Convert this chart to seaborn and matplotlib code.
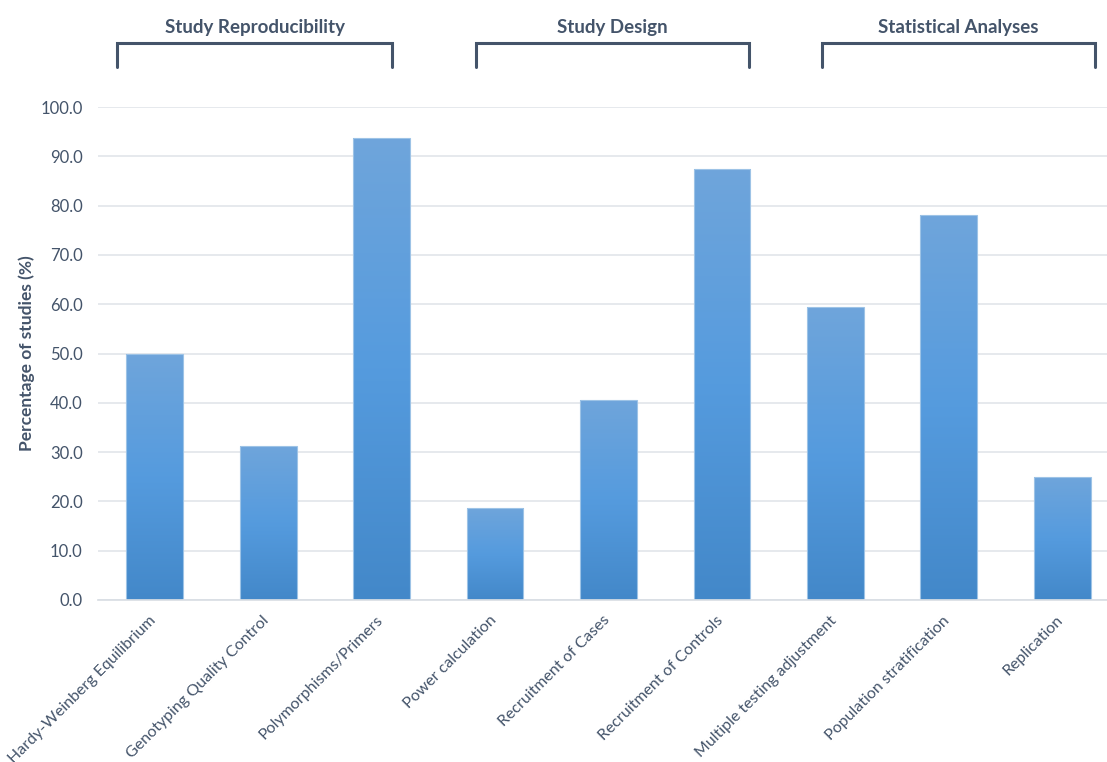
import matplotlib
matplotlib.use("Agg")
import matplotlib.pyplot as plt
import matplotlib.transforms as mtransforms
import numpy as np
import pandas as pd
import seaborn as sns
from matplotlib.colors import LinearSegmentedColormap

categories = ["Hardy-Weinberg Equilibrium", "Genotyping Quality Control", "Polymorphisms/Primers",
              "Power calculation", "Recruitment of Cases", "Recruitment of Controls",
              "Multiple testing adjustment", "Population stratification", "Replication"]
percentages = [50.0, 31.25, 93.75, 18.75, 40.6, 87.5, 59.4, 78.1, 25.0]
groups = ["Study Reproducibility", "Study Design", "Statistical Analyses"]
group_members = [(0, 2), (3, 5), (6, 8)]
# brackets are not centred on their bars in the original
bracket_left = [-0.33, -0.17, -0.12]
bracket_right = [0.09, 0.24, 0.29]

sns.set_theme(style="white")
plt.rcParams['font.family'] = ['Lato', 'DejaVu Sans']
text_col = "#44546A"

df = pd.DataFrame({"category": categories, "pct": percentages})

fig = plt.figure(figsize=(11.07, 7.62), dpi=100)
W, H = 1107, 762
ax = fig.add_axes([98 / W, (H - 600) / H, (1119 - 98) / W, 493 / H])

sns.barplot(data=df, x="category", y="pct", ax=ax, width=0.5, color="#5B9BD5",
            edgecolor="#9DC3E6", linewidth=0.8)

# vertical gradient inside each bar
cmap = LinearSegmentedColormap.from_list("bar", ["#4388C9", "#559BDE", "#6FA5DB"])
grad = np.linspace(0, 1, 256).reshape(-1, 1)
for p in ax.patches:
    x0, y0 = p.get_x(), p.get_y()
    w, h = p.get_width(), p.get_height()
    im = ax.imshow(grad, cmap=cmap, origin="lower", aspect="auto",
                   extent=[x0, x0 + w, y0, y0 + h], zorder=p.get_zorder() + 0.1)
    im.set_clip_path(p)
    p.set_zorder(p.get_zorder() + 0.2)
    p.set_facecolor("none")

ax.set_xlim(-0.5, len(categories) - 0.5)
ax.set_ylim(0, 100)
ax.set_yticks(np.arange(0, 101, 10))
ax.set_yticklabels([f"{v:.1f}" for v in np.arange(0, 101, 10)], color=text_col, fontsize=12)
ax.yaxis.grid(True, color="#E1E5EA", linewidth=1.2)
ax.set_axisbelow(True)
for s in ["top", "right", "left"]:
    ax.spines[s].set_visible(False)
ax.spines["bottom"].set_color("#D9DEE4")
ax.tick_params(axis="y", length=0, pad=11)

ax.set_xlabel("")
ax.set_xticks(range(len(categories)))
ax.set_xticklabels(categories, rotation=45, ha="right", rotation_mode="anchor",
                   color=text_col, fontsize=11.5)
ax.tick_params(axis="x", length=0, pad=11)
# nudge rotated labels so their ends sit under the bar centres
offset = mtransforms.ScaledTranslation(-0.06, 0.02, fig.dpi_scale_trans)
for lab in ax.get_xticklabels():
    lab.set_transform(lab.get_transform() + offset)
ax.set_ylabel("Percentage of studies (%)", fontsize=12.5, fontweight="bold", color=text_col,
              labelpad=4)

# group brackets above the plot
for name, (a, b), lo, hi in zip(groups, group_members, bracket_left, bracket_right):
    xa, xb = a + lo, b + hi
    ax.plot([xa, xa, xb, xb], [108.1, 113.0, 113.0, 108.1], color=text_col, lw=2.2,
            clip_on=False, solid_joinstyle="miter")
    ax.text((xa + xb) / 2, 116.2, name, ha="center", va="center", fontsize=13.5,
            fontweight="bold", color=text_col)

fig.savefig("out.png", dpi=100)
